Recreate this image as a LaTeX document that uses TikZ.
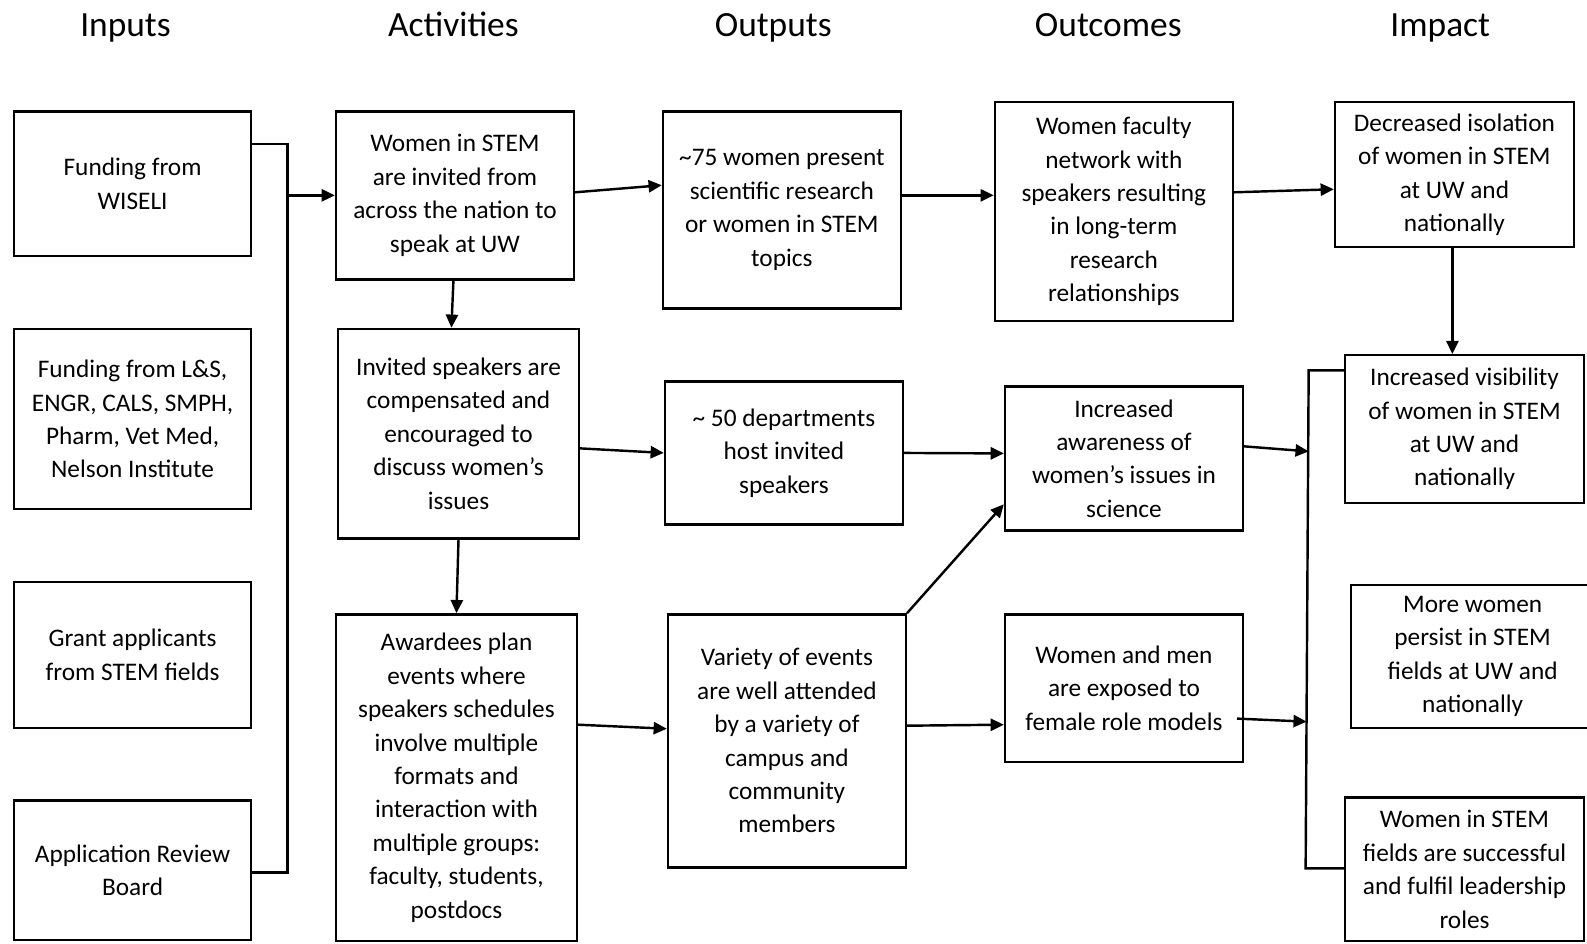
\documentclass[tikz,border=0pt]{standalone}
\usepackage{fontspec}
\setmainfont{Carlito}
\usepackage{tikz}
\usetikzlibrary{calc,arrows.meta,positioning}

\tikzset{
  blk/.style={draw, line width=2.4pt, align=center, inner sep=2pt,
    font=\fontsize{25}{33}\selectfont},
  hdr/.style={anchor=base, inner sep=0pt, font=\fontsize{35}{40}\selectfont},
  arr/.style={line width=2.4pt, -{Triangle[length=13pt,width=12pt]}},
  bar/.style={line width=2.4pt}
}

\begin{document}
\begin{tikzpicture}[x=1pt, y=-1pt]
    \useasboundingbox (0,0) rectangle (1568,932);

    % column headers
    \node[hdr] (hin) at (124,36) {Inputs};
    \node[hdr] (hact) at (448,36) {Activities};
    \node[hdr] (hout) at (764,36) {Outputs};
    \node[hdr] (hoc) at (1095,36) {Outcomes};
    \node[hdr] (him) at (1423,36) {Impact};

    % inputs
    \node[blk, minimum width=234, minimum height=143] (in1) at (131,181.5) {Funding from\\WISELI};
    \node[blk, minimum width=234, minimum height=178] (in2) at (131,414) {Funding from L\&S,\\ENGR, CALS, SMPH,\\Pharm, Vet Med,\\Nelson Institute};
    \node[blk, minimum width=234, minimum height=144] (in3) at (131,647) {Grant applicants\\from STEM fields};
    \node[blk, minimum width=234, minimum height=138] (in4) at (131,860) {Application Review\\Board};

    % activities
    \node[blk, minimum width=235, minimum height=166] (act1) at (449.5,193) {Women in STEM\\are invited from\\across the nation to\\speak at UW};
    \node[blk, minimum width=238, minimum height=207] (act2) at (453,428.5) {Invited speakers are\\compensated and\\encouraged to\\discuss women’s\\issues};
    \node[blk, minimum width=238, minimum height=323] (act3) at (451,768.5) {Awardees plan\\events where\\speakers schedules\\involve multiple\\formats and\\interaction with\\multiple groups:\\faculty, students,\\postdocs};

    % outputs
    \node[blk, minimum width=235, minimum height=195] (out1) at (772.5,207.5) {\textasciitilde75 women present\\scientific research\\or women in STEM\\topics};
    \node[blk, minimum width=235, minimum height=141] (out2) at (774.5,447.5) {\textasciitilde\ 50 departments\\host invited\\speakers};
    \node[blk, minimum width=235, minimum height=250] (out3) at (777.5,732) {Variety of events\\are well attended\\by a variety of\\campus and\\community\\members};

    % outcomes
    \node[blk, minimum width=235, minimum height=216] (oc1) at (1100.5,209) {Women faculty\\network with\\speakers resulting\\in long-term\\research\\relationships};
    \node[blk, minimum width=235, minimum height=142] (oc2) at (1110.5,453) {Increased\\awareness of\\women’s issues in\\science};
    \node[blk, minimum width=235, minimum height=146] (oc3) at (1110.5,680) {Women and men\\are exposed to\\female role models};

    % impact
    \node[blk, minimum width=236, minimum height=143] (im1) at (1437,172.5) {Decreased isolation\\of women in STEM\\at UW and\\nationally};
    \node[blk, minimum width=236, minimum height=146] (im2) at (1447,424) {Increased visibility\\of women in STEM\\at UW and\\nationally};
    \node[blk, minimum width=240, minimum height=141] (im3) at (1455,648.5) {More women\\persist in STEM\\fields at UW and\\nationally};
    \node[blk, minimum width=236, minimum height=142] (im4) at (1447,859) {Women in STEM\\fields are successful\\and fulfil leadership\\roles};

    % input bracket
    \coordinate (intop) at (284,142);
    \coordinate (inbot) at (284,862);
    \coordinate (inbar) at (284,193);
    \draw[bar] ($(in1.east)+(0,-39.5)$) -- (intop) -- (inbot) -- ($(in4.east)+(0,2)$);
    \draw[arr] (inbar) -- (act1.west);

    % activities
    \draw[arr] ($(act1.south)+(-1.5,0)$) -- ($(act2.north)+(-7,0)$);
    \draw[arr] (act2.south) -- (act3.north);
    \draw[arr] ($(act1.east)+(0,-3)$) -- ($(out1.west)+(0,-24.5)$);
    \draw[arr] ($(act2.east)+(0,14.5)$) -- (out2.west);
    \draw[arr] ($(act3.east)+(0,-52.5)$) -- ($(out3.west)+(0,-12)$);

    % outputs
    \draw[arr] ($(out1.east)+(0,-14.5)$) -- ($(oc1.west)+(0,-16)$);
    \draw[arr] (out2.east) -- ($(oc2.west)+(0,-5)$);
    \draw[arr] (out3.north east) -- ($(oc2.south west)+(0,-27)$);
    \draw[arr] ($(out3.east)+(0,-15)$) -- ($(oc3.west)+(0,36)$);

    % outcomes
    \draw[arr] ($(oc1.east)+(0,-19)$) -- ($(im1.west)+(0,14.5)$);
    \draw[arr] ($(im1.south)+(-2,0)$) -- ($(im2.north)+(-12,0)$);

    % impact bracket
    \coordinate (imtop) at (1293,366);
    \coordinate (imbot) at (1290,858);
    \coordinate (bar1) at (1293,446);
    \coordinate (bar2) at (1291,713);
    \draw[bar] ($(im2.west)+(0,-58)$) -- (imtop) -- (imbot) -- ($(im4.west)+(0,-1)$);
    \draw[arr] ($(oc2.east)+(0,-12)$) -- (bar1);
    \draw[arr] ($(oc3.east)+(-7,30)$) -- (bar2);
\end{tikzpicture}
\end{document}
